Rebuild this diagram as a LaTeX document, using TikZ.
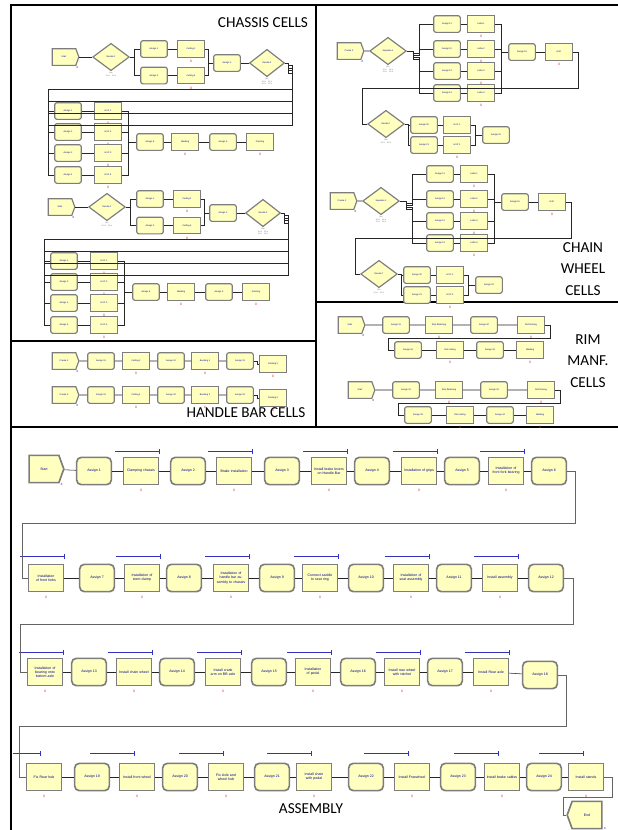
\documentclass[tikz,border=0pt]{standalone}
\usepackage{fontspec}
\setmainfont{Carlito}
\newfontfamily\arenafont{Liberation Sans}
\usetikzlibrary{shapes.geometric,shapes.symbols}

\definecolor{modfill}{RGB}{255,255,192}
\definecolor{modedge}{RGB}{125,125,125}
\definecolor{modtext}{RGB}{0,0,140}
\definecolor{countred}{RGB}{200,40,40}
\definecolor{queueblue}{RGB}{50,50,190}
\definecolor{loopgray}{RGB}{100,100,100}

\tikzset{
  module/.style={fill=modfill, draw=modedge, line width=1pt, inner sep=0.3pt,
    align=center, text=modtext},
  cellsize/.style={minimum width=0.8cm, minimum height=0.5cm,
    font=\arenafont\fontsize{1.9}{2.2}\selectfont},
  asmsize/.style={minimum width=1.04cm, minimum height=0.82cm, line width=1.4pt,
    font=\arenafont\fontsize{3}{3.5}\selectfont},
  wrap/.style={text width=0.92cm},
  process/.style={module, rectangle},
  assign/.style={module, rectangle, rounded corners=#1},
  assign/.default=2pt,
  create/.style={module, signal, signal to=east, signal pointer angle=140},
  dispose/.style={module, signal, signal to=west, signal pointer angle=140},
  decide/.style={module, diamond, minimum width=1.1cm, minimum height=0.82cm,
    font=\arenafont\fontsize{1.9}{2.2}\selectfont},
  link/.style={draw=black!85, line width=0.45pt},
  loopline/.style={draw=loopgray, line width=0.7pt},
  count/.style={text=countred, font=\arenafont\fontsize{2.8}{3}\selectfont, inner sep=0},
  tally/.style={text=modtext, font=\arenafont\fontsize{2.4}{3}\selectfont, inner sep=0},
  note/.style={text=black!60, font=\arenafont\fontsize{1.5}{1.8}\selectfont,
    inner sep=0, align=center, anchor=north},
  queue/.style={draw=queueblue, line width=0.6pt},
  celltitle/.style={font=\fontsize{13}{18.5}\selectfont, align=center, inner sep=0},
}

\begin{document}
\begin{tikzpicture}[x=0.03cm, y=-0.03cm]
  \fill[white] (0,0) rectangle (618,830);
  \useasboundingbox (0,0) rectangle (618,830);

  % section frames
  \draw[line width=1.8pt] (11,830) -- (11,5) -- (618,5);
  \draw[line width=1.4pt] (316,5) -- (316,427);
  \draw[line width=1.2pt] (11,341) -- (316,341);
  \draw[line width=2.4pt] (316,302) -- (618,302);
  \draw[line width=1.6pt] (11,427) -- (618,427);

  \node[celltitle] (tChassis) at (263,23) {CHASSIS CELLS};
  \node[celltitle] (tChain) at (583,269) {CHAIN\\WHEEL\\CELLS};
  \node[celltitle] (tHandle) at (246,413) {HANDLE BAR CELLS};
  \node[celltitle] (tRim) at (588,361) {RIM\\MANF.\\CELLS};
  \node[celltitle] (tAsm) at (311,809) {ASSEMBLY};

  % chassis cells
  \foreach \g/\dx/\dy in {a/0/0, b/-4/150}{
    \begin{scope}[shift={(\dx,\dy)}]
      \node[create, cellsize] (c\g-st) at (64,57) {Start};
      \node[tally] at ([shift={(1pt,-1pt)}]c\g-st.south east) {0};
      \node[decide] (c\g-d1) at (111,57) {Decide 1};
      \node[note] at ([yshift=-1pt]c\g-d1.south) {Else\\50 \% \quad 50 \%};
      \node[assign, cellsize] (c\g-a1) at (154,49) {Assign 1};
      \node[assign, cellsize] (c\g-a2) at (154,75.5) {Assign 2};
      \node[process, cellsize] (c\g-c1) at (191,49) {Cutting 1};
      \node[process, cellsize] (c\g-c2) at (191,75.5) {Cutting 2};
      \node[count] at ([yshift=-3pt]c\g-c1.south) {0};
      \node[count] at ([yshift=-3pt]c\g-c2.south) {0};
      \node[assign, cellsize] (c\g-a3) at (227,63) {Assign 3};
      \node[decide, minimum width=1.05cm] (c\g-d2) at (267,63) {Decide 2};
      \node[note] at ([yshift=-1pt]c\g-d2.south) {Else\\25 \% \quad 25 \%\\25 \% \quad 25 \%};
      \foreach \n/\y in {1/111,2/132,3/153,4/175}{
        \node[assign, cellsize] (c\g-l\n) at (68,\y) {Assign \n};
        \node[process, cellsize] (c\g-h\n) at (108,\y) {HVC \n};
        \node[count] at ([yshift=-3pt]c\g-h\n.south) {0};
      }
      \node[assign, cellsize] (c\g-a8) at (150,142) {Assign 8};
      \node[process, cellsize] (c\g-we) at (185,142) {Welding};
      \node[assign, cellsize] (c\g-a9) at (223,142) {Assign 9};
      \node[process, cellsize] (c\g-pa) at (260,142) {Painting};
      \node[count] at ([yshift=-3pt]c\g-we.south) {0};
      \node[count] at ([yshift=-3pt]c\g-pa.south) {0};

      \draw[link] (c\g-st) -- (c\g-d1);
      \draw[link] (c\g-d1.east) -- ++(4,0) |- (c\g-a1.west);
      \draw[link] (c\g-d1.east) -- ++(4,0) |- (c\g-a2.west);
      \draw[link] (c\g-a1) -- (c\g-c1);
      \draw[link] (c\g-a2) -- (c\g-c2);
      \draw[link] (c\g-c1.east) -| ([xshift=-4pt]c\g-a3.west) -- (c\g-a3.west);
      \draw[link] (c\g-c2.east) -| ([xshift=-4pt]c\g-a3.west);
      \draw[link] (c\g-a3) -- (c\g-d2);
      \draw[link] (c\g-d2.east) -- ++(3,0) coordinate (c\g-fork);
      \foreach \n/\yl in {1/89,2/101,3/113,4/125}
        \draw[link] (c\g-fork) |- ++(4,{2.5*\n}) |- (48,\yl) |- (c\g-l\n.west);
      \foreach \n in {1,...,4}{
        \draw[link] (c\g-l\n) -- (c\g-h\n);
        \draw[link] (c\g-h\n.east) -| ([xshift=-7pt]c\g-a8.west) -- (c\g-a8.west);
      }
      \draw[link] (c\g-a8) -- (c\g-we) -- (c\g-a9) -- (c\g-pa);
    \end{scope}
  }

  % chain wheel cells
  \foreach \g/\dx/\dy in {a/0/0, b/-7/150}{
    \begin{scope}[shift={(\dx,\dy)}]
      \node[create, cellsize] (w\g-st) at (349,51) {Create 2};
      \node[tally] at ([shift={(1pt,-1pt)}]w\g-st.south east) {0};
      \node[decide] (w\g-d1) at (388,51) {Separate 1};
      \node[note] at ([yshift=-1pt]w\g-d1.south) {Else\\25 \% \quad 25 \%\\25 \% \quad 25 \%};
      \foreach \n/\y in {1/24,2/49,3/71,4/93}{
        \node[assign, cellsize] (w\g-a\n) at (447,\y) {Assign 1\n};
        \node[process, cellsize] (w\g-l\n) at (481,\y) {Lathe \n};
        \node[count] at ([yshift=-3pt]w\g-l\n.south) {0};
      }
      \node[assign, cellsize] (w\g-a5) at (522,52) {Assign 15};
      \node[process, cellsize] (w\g-hv) at (559,52) {HVC};
      \node[count] at ([yshift=-3pt]w\g-hv.south) {0};
      \node[decide] (w\g-d2) at (386,124) {Decide 7};
      \node[note] at ([yshift=-1pt]w\g-d2.south) {Else\\50 \% \quad 50 \%};
      \node[assign, cellsize] (w\g-b1) at (424,125) {Assign 20};
      \node[assign, cellsize] (w\g-b2) at (424,145) {Assign 21};
      \node[process, cellsize] (w\g-h1) at (457,125) {HVC 1};
      \node[process, cellsize] (w\g-h2) at (457,145) {HVC 2};
      \node[count] at ([yshift=-3pt]w\g-h2.south) {0};
      \node[assign, cellsize] (w\g-a6) at (496,135) {Assign 22};

      \draw[link] (w\g-st) -- (w\g-d1);
      \foreach \n in {1,...,4}{
        \draw[link] (w\g-d1.east) -- ++(6,0) |- ++(6,{2*\n}) |- (w\g-a\n.west);
        \draw[link] (w\g-a\n) -- (w\g-l\n);
        \draw[link] (w\g-l\n.east) -| ([xshift=-6pt]w\g-a5.west) -- (w\g-a5.west);
      }
      \draw[link] (w\g-a5) -- (w\g-hv);
      \draw[link] (w\g-hv.east) -- ++(5,0) |- (362,88) |- (w\g-d2.west);
      \draw[link] (w\g-d2.east) -- ++(3,0) |- (w\g-b1.west);
      \draw[link] (w\g-d2.east) -- ++(3,0) |- (w\g-b2.west);
      \draw[link] (w\g-b1) -- (w\g-h1);
      \draw[link] (w\g-b2) -- (w\g-h2);
      \draw[link] (w\g-h1.east) -| ([xshift=-6pt]w\g-a6.west) -- (w\g-a6.west);
      \draw[link] (w\g-h2.east) -| ([xshift=-6pt]w\g-a6.west);
    \end{scope}
  }

  % handle bar cells
  \foreach \r/\y in {a/361, b/395}{
    \node[create, cellsize] (h\r-st) at (64,\y) {Create 3};
    \node[tally] at ([shift={(1pt,-1pt)}]h\r-st.south east) {0};
    \node[assign, cellsize] (h\r-a1) at (101,\y) {Assign 31};
    \node[process, cellsize] (h\r-cu) at (136,\y) {Cutting 3};
    \node[assign, cellsize] (h\r-a2) at (171,\y) {Assign 32};
    \node[process, cellsize] (h\r-be) at (205,\y) {Bending 3};
    \node[assign, cellsize] (h\r-a3) at (240,\y) {Assign 33};
    \node[process, cellsize] (h\r-pa) at (273,{\y+3}) {Painting 3};
    \foreach \m in {cu,be,pa}
      \node[count] at ([yshift=-3pt]h\r-\m.south) {0};
    \draw[link] (h\r-st) -- (h\r-a1) -- (h\r-cu) -- (h\r-a2) -- (h\r-be) -- (h\r-a3);
    \draw[link] (h\r-a3.east) -- ++(3,0) |- (h\r-pa.west);
  }

  % rim manufacturing cells
  \foreach \g/\dx/\dy in {a/0/0, b/10/65}{
    \begin{scope}[shift={(\dx,\dy)}]
      \node[create, cellsize] (r\g-st) at (350,325) {Start};
      \node[tally] at ([shift={(1pt,-1pt)}]r\g-st.south east) {0};
      \node[assign, cellsize] (r\g-a1) at (396,325) {Assign 41};
      \node[process, cellsize] (r\g-sf) at (439,325) {Strip flattening};
      \node[assign, cellsize] (r\g-a2) at (484,325) {Assign 42};
      \node[process, cellsize] (r\g-rf) at (531,325) {Roll forming};
      \node[assign, cellsize] (r\g-a3) at (408,350) {Assign 43};
      \node[process, cellsize] (r\g-rc) at (450,350) {Roll cutting};
      \node[assign, cellsize] (r\g-a4) at (490,350) {Assign 44};
      \node[process, cellsize] (r\g-we) at (530,350) {Welding};
      \foreach \m in {sf,rf,rc,we}
        \node[count] at ([yshift=-3pt]r\g-\m.south) {0};
      \draw[link] (r\g-st) -- (r\g-a1) -- (r\g-sf) -- (r\g-a2) -- (r\g-rf);
      \draw[link] (r\g-rf.east) -- ++(5,0) |- (388,338) |- (r\g-a3.west);
      \draw[link] (r\g-a3) -- (r\g-rc) -- (r\g-a4) -- (r\g-we);
    \end{scope}
  }

  % assembly line
  \node[create, asmsize] (s-st) at (44,469) {Start};
  \node[tally] at ([shift={(2pt,-1pt)}]s-st.south east) {0};
  \foreach \k/\x/\y in {1/94/471, 2/188/471, 3/282/471, 4/372/471, 5/462/471, 6/549/471,
      7/97/578, 8/184/578, 9/277/578, 10/366/578, 11/454/578, 12/546/578,
      13/89/672, 14/177/672, 15/269/672, 16/358/672, 17/445/672, 18/540/675,
      19/92/777, 20/180/777, 21/272/777, 22/366/777, 23/458/777, 24/544/777}
    \node[assign=4pt, asmsize] (s-a\k) at (\x,\y) {Assign \k};
  \foreach \k/\x/\y/\q/\w/\h/\t in {1/141/471/0/44/5/Clamping chassis,
      2/234/471/0/44/5/Brake installation,
      3/329/471/0/44/5/Install brake levers on Handle Bar,
      4/419/471/0/44/5/Installation of grips,
      5/506/471/0/44/5/Installation of front fork bearing,
      6/46/578/0/44/7/Installation of front forks,
      7/142/578/0/44/7/Installation of stem clamp,
      8/231/578/0/44/7/Installation of handle bar assembly to chassis,
      9/320/578/0/44/7/Connect saddle to seat ring,
      10/411/578/0/44/7/Installation of seat assembly,
      11/500/578/0/44/7/Install assembly,
      12/45/672/0/44/5/Installation of bearing onto bottom axle,
      13/134/672/0/44/5/Install chain wheel,
      14/223/672/0/44/5/Install crank arm on BB axle,
      15/313/672/0/44/5/Installation of pedal,
      16/402/672/0/44/5/Install rear wheel with ratchet,
      17/491/672/0/44/5/Install Rear axle,
      18/44/777/22/27/9/Fix Rear hub,
      19/137/777/21/44/9/Install front wheel,
      20/226/777/21/44/9/Fix Axle and wheel hub,
      21/314/777/21/44/9/Install chain with pedal,
      22/412/777/22/44/9/Install Freewheel,
      23/502/777/22/44/9/Install brake cables,
      24/586/777/21/44/9/Install stands}{
    \node[process, asmsize, wrap] (s-p\k) at (\x,\y) {\t};
    \node[count] at ([yshift=-4pt]s-p\k.south) {0};
    \draw[queue] ([shift={(-\q-\w,-\h)}]s-p\k.north east) -- ([shift={(-\q,-\h)}]s-p\k.north east)
      ++(0,-2.5) -- ++(0,5);
  }
  \node[dispose, asmsize] (s-end) at (587,815) {End};
  \node[tally] at ([shift={(2pt,-1pt)}]s-end.south east) {0};

  \draw[link] (s-st) -- (s-a1);
  \foreach \k in {1,2,3,4,5,7,8,9,10,11,13,14,15,16,17,19,20,21,22,23,24}
    \draw[link] (s-a\k) -- (s-p\k);
  \foreach \k [count=\j from 2] in {1,...,23}
    \draw[link] (s-p\k) -- (s-a\j);
  \draw[loopline] (s-a6.east) -- ++(8,0) |- (22,523) |- (s-p6.west);
  \draw[loopline] (s-a12.east) -- ++(9,0) |- (20,624) |- (s-p12.west);
  \draw[loopline] (s-a18.east) -- ++(8,0) |- (19,726) |- (s-p18.west);
  \draw[loopline] (s-p24.east) -- ++(8,0) |- (563,797) |- (s-end.west);
\end{tikzpicture}
\end{document}
